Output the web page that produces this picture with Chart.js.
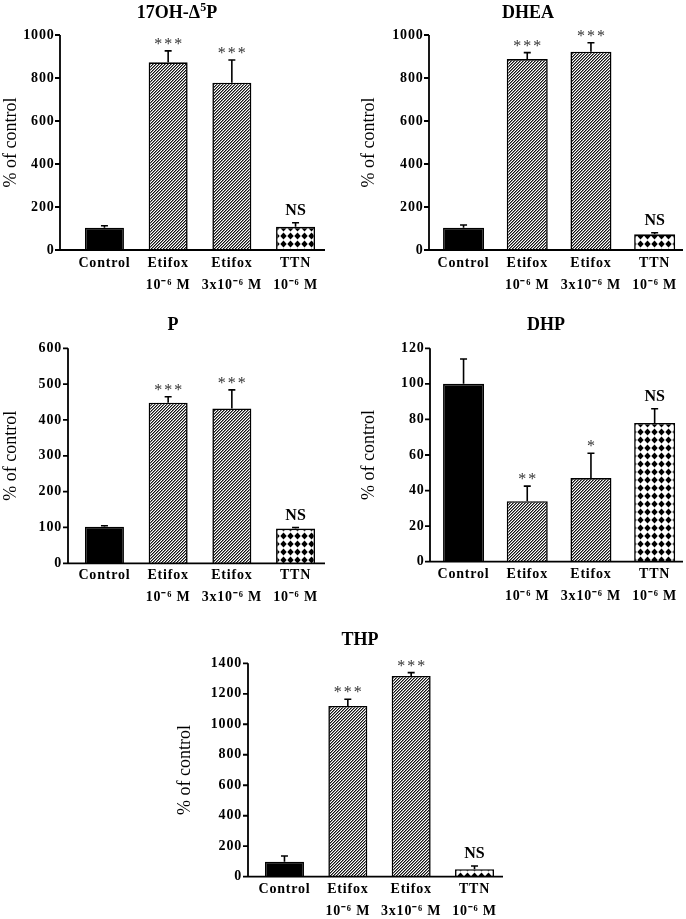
<!DOCTYPE html>
<html>
<head>
<meta charset="utf-8">
<script src="https://cdn.jsdelivr.net/npm/chart.js@4.4.1/dist/chart.umd.min.js"></script>
<style>
  body { margin: 0; background: #fff; width: 686px; height: 919px; overflow: hidden; position: relative; }
  canvas { position: absolute; }
</style>
</head>
<body>
<canvas id="c1" width="346" height="300" style="left:0;top:0"></canvas>
<canvas id="c2" width="346" height="300" style="left:343px;top:0"></canvas>
<canvas id="c3" width="346" height="310" style="left:0;top:300px"></canvas>
<canvas id="c4" width="346" height="310" style="left:343px;top:300px"></canvas>
<canvas id="c5" width="346" height="319" style="left:170px;top:600px"></canvas>
<script>
// x categories (shared by every panel)
const categories = [['Control'], ['Etifox', '10⁻⁶ M'], ['Etifox', '3x10⁻⁶ M'], ['TTN', '10⁻⁶ M']];

// 17OH-Δ5P
const ohpMean = [104, 873, 778, 108];
const ohpSem = [9, 53, 106, 19];
const ohpSig = ['', '***', '***', 'NS'];

// DHEA
const dheaMean = [104, 888, 922, 73];
const dheaSem = [12, 30, 42, 7];
const dheaSig = ['', '***', '***', 'NS'];

// P
const pMean = [102, 448, 432, 97];
const pSem = [3, 17, 52, 3];
const pSig = ['', '***', '***', 'NS'];

// DHP
const dhpMean = [100, 34, 47, 78];
const dhpSem = [14, 8.5, 14, 8];
const dhpSig = ['', '**', '*', 'NS'];

// THP
const thpMean = [98, 1120, 1317, 49];
const thpSem = [38, 44, 22, 21];
const thpSig = ['', '***', '***', 'NS'];

const yMax = [1000, 1000, 600, 120, 1400];
const yStep = [200, 200, 100, 20, 200];
const yTitle = '% of control';

const SERIF = '"Liberation Serif", "Times New Roman", serif';

function hatchPattern() {
    const c = document.createElement('canvas');
    c.width = 3; c.height = 3;
    const g = c.getContext('2d');
    const img = g.createImageData(3, 3);
    for (let y = 0; y < 3; y++) {
        for (let x = 0; x < 3; x++) {
            const k = (x + y) % 3;
            const v = k === 0 ? 20 : (k === 1 ? 130 : 255);
            const o = (y * 3 + x) * 4;
            img.data[o] = img.data[o + 1] = img.data[o + 2] = v;
            img.data[o + 3] = 255;
        }
    }
    g.putImageData(img, 0, 0);
    return g.createPattern(c, 'repeat');
}

function dotPattern() {
    const c = document.createElement('canvas');
    c.width = 7; c.height = 8;
    const g = c.getContext('2d');
    g.fillStyle = '#fff';
    g.fillRect(0, 0, 7, 8);
    g.fillStyle = '#000';
    g.beginPath();
    g.moveTo(3.5, 0.4);
    g.lineTo(6.7, 4);
    g.lineTo(3.5, 7.6);
    g.lineTo(0.3, 4);
    g.closePath();
    g.fill();
    return g.createPattern(c, 'repeat');
}

const hatch = hatchPattern();
const dots = dotPattern();
const barFills = ['#000', hatch, hatch, dots];

// draws a title with ^x superscripts
function drawTitle(ctx, text, cx, cy) {
    const parts = [];
    for (let i = 0; i < text.length; i++) {
        if (text[i] === '^') { parts.push({t: text[i + 1], sup: true}); i++; }
        else parts.push({t: text[i], sup: false});
    }
    const big = 'bold 18px ' + SERIF, small = 'bold 12px ' + SERIF;
    let w = 0;
    parts.forEach(p => { ctx.font = p.sup ? small : big; p.w = ctx.measureText(p.t).width; w += p.w; });
    let x = cx - w / 2;
    ctx.textAlign = 'left';
    ctx.textBaseline = 'middle';
    parts.forEach(p => {
        ctx.font = p.sup ? small : big;
        ctx.fillText(p.t, x, p.sup ? cy - 5 : cy);
        x += p.w;
    });
}

function decor(p) {
    return {
        id: 'decor' + p.id,
        beforeDraw(chart) {
            chart.ctx.letterSpacing = '0.8px';
        },
        afterDraw(chart) {
            const ctx = chart.ctx;
            const ys = chart.scales.y;
            const y0 = ys.getPixelForValue(0);
            const yTop = ys.getPixelForValue(p.max);
            ctx.save();
            ctx.letterSpacing = '0px';
            ctx.strokeStyle = '#000';
            ctx.fillStyle = '#000';
            ctx.lineWidth = 1.8;
            ctx.beginPath();
            ctx.moveTo(p.axisX, yTop);
            ctx.lineTo(p.axisX, y0);
            ctx.lineTo(p.xEnd, y0);
            ys.ticks.forEach(t => {
                const py = ys.getPixelForValue(t.value);
                ctx.moveTo(p.axisX - 5, py);
                ctx.lineTo(p.axisX, py);
            });
            ctx.stroke();

            // error bars and significance marks
            const meta = chart.getDatasetMeta(0);
            meta.data.forEach((bar, i) => {
                const top = ys.getPixelForValue(p.mean[i]);
                const et = ys.getPixelForValue(p.mean[i] + p.sem[i]);
                ctx.lineWidth = 1.6;
                ctx.beginPath();
                ctx.moveTo(bar.x, top);
                ctx.lineTo(bar.x, et);
                ctx.moveTo(bar.x - 3.5, et);
                ctx.lineTo(bar.x + 3.5, et);
                ctx.stroke();
                const s = p.sig[i];
                if (!s) return;
                if (s === 'NS') {
                    ctx.font = 'bold 16px ' + SERIF;
                    ctx.textAlign = 'center';
                    ctx.textBaseline = 'middle';
                    ctx.fillText('NS', bar.x, et - 12);
                } else {
                    ctx.font = '16px ' + SERIF;
                    ctx.fillStyle = '#333';
                    ctx.textAlign = 'center';
                    ctx.textBaseline = 'alphabetic';
                    const m = ctx.measureText('*');
                    const mid = (m.actualBoundingBoxAscent - m.actualBoundingBoxDescent) / 2;
                    const n = s.length;
                    for (let k = 0; k < n; k++) {
                        ctx.fillText('*', bar.x + (k - (n - 1) / 2) * 10, et - 9.5 + mid);
                    }
                    ctx.fillStyle = '#000';
                }
            });

            drawTitle(ctx, p.title, p.titleX, p.titleY);

            ctx.font = '18px ' + SERIF;
            ctx.textAlign = 'center';
            ctx.textBaseline = 'middle';
            ctx.translate(p.yTitleX, (yTop + y0) / 2);
            ctx.rotate(-Math.PI / 2);
            ctx.fillText(yTitle, 0, 0);
            ctx.restore();
        }
    };
}

function makeChart(p) {
    const canvas = document.getElementById(p.id);
    const W = canvas.width, H = canvas.height;
    const step = (p.areaR - p.areaL) / categories.length;
    new Chart(canvas, {
        type: 'bar',
        data: {
            labels: categories,
            datasets: [{
                data: p.mean,
                backgroundColor: barFills,
                borderColor: '#000',
                borderWidth: 1.6,
                categoryPercentage: 1,
                barPercentage: p.barW / step
            }]
        },
        options: {
            responsive: false,
            animation: false,
            devicePixelRatio: 1,
            layout: {padding: {left: 0, top: p.areaT, right: W - p.areaR, bottom: 0}},
            plugins: {legend: {display: false}, tooltip: {enabled: false}, title: {display: false}},
            scales: {
                x: {
                    grid: {display: false, drawTicks: false},
                    border: {display: false},
                    ticks: {
                        color: '#000', autoSkip: false, maxRotation: 0, padding: p.xPad,
                        font: {family: SERIF, size: 14, weight: 'bold', lineHeight: '22px'}
                    },
                    afterFit: s => { s.height = H - p.areaB; }
                },
                y: {
                    min: 0, max: p.max,
                    grid: {display: false, drawTicks: false},
                    border: {display: false},
                    ticks: {
                        stepSize: p.step, color: '#000', padding: p.areaL - p.labelRight,
                        font: {family: SERIF, size: 14, weight: 'bold'},
                        callback: v => String(v)
                    },
                    afterFit: s => { s.width = p.areaL; }
                }
            }
        },
        plugins: [decor(p)]
    });
}

makeChart({id: 'c1', title: '17OH-Δ^5P', mean: ohpMean, sem: ohpSem, sig: ohpSig, max: yMax[0], step: yStep[0],
    axisX: 60, xEnd: 325, areaL: 72.6, areaR: 327.4, areaT: 35, areaB: 250, labelRight: 54.5, barW: 39,
    titleX: 177, titleY: 13, yTitleX: 11, xPad: 2});
makeChart({id: 'c2', title: 'DHEA', mean: dheaMean, sem: dheaSem, sig: dheaSig, max: yMax[1], step: yStep[1],
    axisX: 86, xEnd: 340, areaL: 88.7, areaR: 343.5, areaT: 35, areaB: 250, labelRight: 80.5, barW: 41,
    titleX: 185, titleY: 13, yTitleX: 26, xPad: 2});
makeChart({id: 'c3', title: 'P', mean: pMean, sem: pSem, sig: pSig, max: yMax[2], step: yStep[2],
    axisX: 68, xEnd: 325, areaL: 72.6, areaR: 327.4, areaT: 48.3, areaB: 263.3, labelRight: 62, barW: 39,
    titleX: 173, titleY: 25, yTitleX: 11, xPad: 1});
makeChart({id: 'c4', title: 'DHP', mean: dhpMean, sem: dhpSem, sig: dhpSig, max: yMax[3], step: yStep[3],
    axisX: 87, xEnd: 340, areaL: 88.7, areaR: 343.5, areaT: 48.3, areaB: 261.7, labelRight: 81.5, barW: 41,
    titleX: 203, titleY: 25, yTitleX: 26, xPad: 2});
makeChart({id: 'c5', title: 'THP', mean: thpMean, sem: thpSem, sig: thpSig, max: yMax[4], step: yStep[4],
    axisX: 78, xEnd: 333, areaL: 82.8, areaR: 336.2, areaT: 63.3, areaB: 276.7, labelRight: 72, barW: 39,
    titleX: 190, titleY: 40, yTitleX: 15, xPad: 2});
</script>
</body>
</html>
